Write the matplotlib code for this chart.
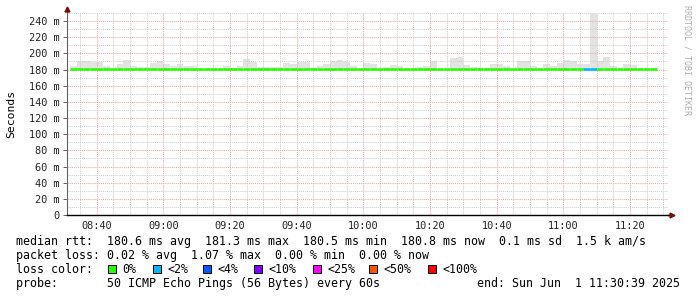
import matplotlib
matplotlib.use("Agg")
import matplotlib.pyplot as plt
from matplotlib.patches import Rectangle
from matplotlib.ticker import MultipleLocator

W, H = 697, 297

# 2 minute bins, first bin starts 08:32 (minutes since midnight)
bin_start = 8 * 60 + 32
bin_width = 2

# top of the smoke (ms) per bin
smoke_top = [185, 190, 190, 189, 189, 184, 181, 186.5, 191.5, 184,
             183, 183, 188, 191, 186.5, 184, 186.5, 185, 184, 181,
             181, 181, 181, 185, 182.5, 185, 193, 189.5, 183.5, 183.5,
             183.5, 183.5, 188, 186.5, 189.5, 189.5, 181.5, 184, 187.5, 190.7,
             191.5, 189.5, 184, 181, 188, 186.5, 181, 183, 185.5, 184,
             181, 181, 183, 184, 190, 181, 181, 194, 195, 185.5,
             183.5, 182.5, 182.5, 186.5, 186.5, 184.5, 181, 190, 190, 184.5,
             181, 186.5, 184.5, 188, 191.5, 190, 186.5, 186.5, 249, 190,
             195, 184.5, 181, 186.5, 186, 181.5, 181.5, 181.5]

# median rtt (ms) per bin
median = [180.6, 180.6, 180.6, 180.6, 180.6, 180.6, 180.6, 180.6, 180.6, 180.6,
          180.6, 180.6, 180.6, 180.6, 180.6, 180.6, 180.6, 180.6, 180.6, 180.6,
          180.6, 180.6, 180.6, 180.6, 180.6, 180.6, 180.6, 180.6, 180.6, 180.6,
          180.6, 180.6, 180.6, 180.6, 180.6, 180.6, 180.6, 180.6, 180.6, 180.6,
          180.6, 180.6, 180.6, 180.6, 180.6, 180.6, 180.6, 180.6, 180.6, 180.6,
          180.6, 181.2, 181.2, 180.6, 180.6, 180.6, 180.6, 180.5, 180.5, 180.5,
          180.5, 180.5, 181.2, 181.2, 181.2, 180.5, 181.2, 181.2, 180.5, 180.5,
          180.5, 180.5, 180.5, 180.5, 180.6, 181.2, 181.2, 181.0, 181.0, 181.0,
          181.0, 181.0, 180.5, 180.5, 181.2, 181.2, 180.5, 181.2]

# packet loss (%) per bin
loss = [0] * 77 + [0.8, 1.07] + [0] * 9

loss_labels = ["0%", "<2%", "<4%", "<10%", "<25%", "<50%", "<100%"]
loss_limits = [0, 2, 4, 10, 25, 50, 100]
loss_colors = ["#26ff00", "#00b8ff", "#0059ff", "#7e00ff", "#ff00ff", "#ff5500", "#ff0000"]

time_ticks = [520, 540, 560, 580, 600, 620, 640, 660, 680]
time_labels = ["08:40", "09:00", "09:20", "09:40", "10:00", "10:20", "10:40", "11:00", "11:20"]
y_ticks = [0, 20, 40, 60, 80, 100, 120, 140, 160, 180, 200, 220, 240]
y_labels = ["0"] + ["%d m" % v for v in y_ticks[1:]]

legend_lines = [
    "median rtt:  180.6 ms avg  181.3 ms max  180.5 ms min  180.8 ms now  0.1 ms sd  1.5 k am/s",
    "packet loss: 0.02 % avg  1.07 % max  0.00 % min  0.00 % now",
]
probe_text = "probe:       50 ICMP Echo Pings (56 Bytes) every 60s"
end_text = "end: Sun Jun  1 11:30:39 2025"

MONO = "DejaVu Sans Mono"

def loss_color(v):
    for lim, col in zip(loss_limits, loss_colors):
        if v <= lim:
            return col
    return loss_colors[-1]

fig = plt.figure(figsize=(W / 100, H / 100), dpi=100)
fig.patch.set_facecolor("white")
ax = fig.add_axes([67 / W, (H - 215) / H, (668 - 67) / W, (215 - 13) / H])

x0, x1 = 511.1, 691.4
ax.set_xlim(x0, x1)
ax.set_ylim(0, 250)

starts = [bin_start + i * bin_width for i in range(len(smoke_top))]

# smoke
ax.bar(starts, [t - 179.8 for t in smoke_top], bottom=179.8, width=bin_width,
       align="edge", color="#e3e3e3", linewidth=0, zorder=1)

# median line coloured by loss
ax.hlines(median, starts, [s + bin_width for s in starts],
          colors=[loss_color(v) for v in loss], linewidth=1.9, zorder=3)

# grid
ax.set_xticks(time_ticks)
ax.set_xticklabels(time_labels)
ax.xaxis.set_minor_locator(MultipleLocator(5))
ax.set_yticks(y_ticks)
ax.set_yticklabels(y_labels)
ax.yaxis.set_minor_locator(MultipleLocator(10))
ax.grid(which="minor", color="#cfcfcf", linestyle=(0, (1, 1)), linewidth=0.75)
ax.grid(which="major", color="#e8a8a8", linestyle=(0, (1, 1)), linewidth=0.75)
ax.tick_params(axis="x", which="both", length=0, pad=4, labelsize=7.4)
ax.tick_params(axis="y", which="major", length=3, width=0.7, color="#606060",
               pad=2.5, labelsize=7.4)
ax.tick_params(axis="y", which="minor", length=0)
for lab in ax.get_xticklabels() + ax.get_yticklabels():
    lab.set_family(MONO)
    lab.set_color("#222222")

for side in ["top", "right"]:
    ax.spines[side].set_visible(False)
ax.spines["left"].set_color("#606060")
ax.spines["left"].set_linewidth(0.8)
ax.spines["bottom"].set_color("black")
ax.spines["bottom"].set_linewidth(1.0)

# axis extensions with arrows
ax.plot([x0, x0], [250, 255], color="#606060", lw=0.8, clip_on=False)
ax.plot([x0], [255.5], marker="^", color="#7a0a0a", markersize=3.5, clip_on=False)
ax.plot([x1, x1 + 1.0], [0, 0], color="black", lw=1.0, clip_on=False)
ax.plot([x1 + 1.2], [0], marker=">", color="#7a0a0a", markersize=3.5, clip_on=False)

ax.set_ylabel("Seconds", family=MONO, fontsize=8.2, labelpad=9)

def px(x, y):
    return x / W, 1 - y / H

fig.text(*px(687, 5), "RRDTOOL / TOBI OETIKER", rotation=270, family=MONO,
         fontsize=6.0, color="#b0b0b0", ha="center", va="top")

fs = 8.4
fig.text(*px(15.5, 241), legend_lines[0], family=MONO, fontsize=fs, va="center", color="black")
fig.text(*px(15.5, 255.5), legend_lines[1], family=MONO, fontsize=fs, va="center", color="black")
fig.text(*px(15.5, 269.5), "loss color:", family=MONO, fontsize=fs, va="center", color="black")

swatch_x = [108, 152.7, 202.7, 254, 312.7, 369, 428]
for sx, lab, col in zip(swatch_x, loss_labels, loss_colors):
    fig.patches.append(Rectangle((sx / W, (H - 273) / H), 8 / W, 8 / H,
                                 transform=fig.transFigure, facecolor=col,
                                 edgecolor="black", linewidth=0.7))
    fig.text(*px(sx + 14.5, 269.5), lab, family=MONO, fontsize=fs, va="center", color="black")

fig.text(*px(15.5, 283.5), probe_text, family=MONO, fontsize=fs, va="center", color="black")
fig.text(*px(477, 283.5), end_text, family=MONO, fontsize=fs, va="center", color="black")

fig.savefig("out.png", dpi=100, facecolor="white")
